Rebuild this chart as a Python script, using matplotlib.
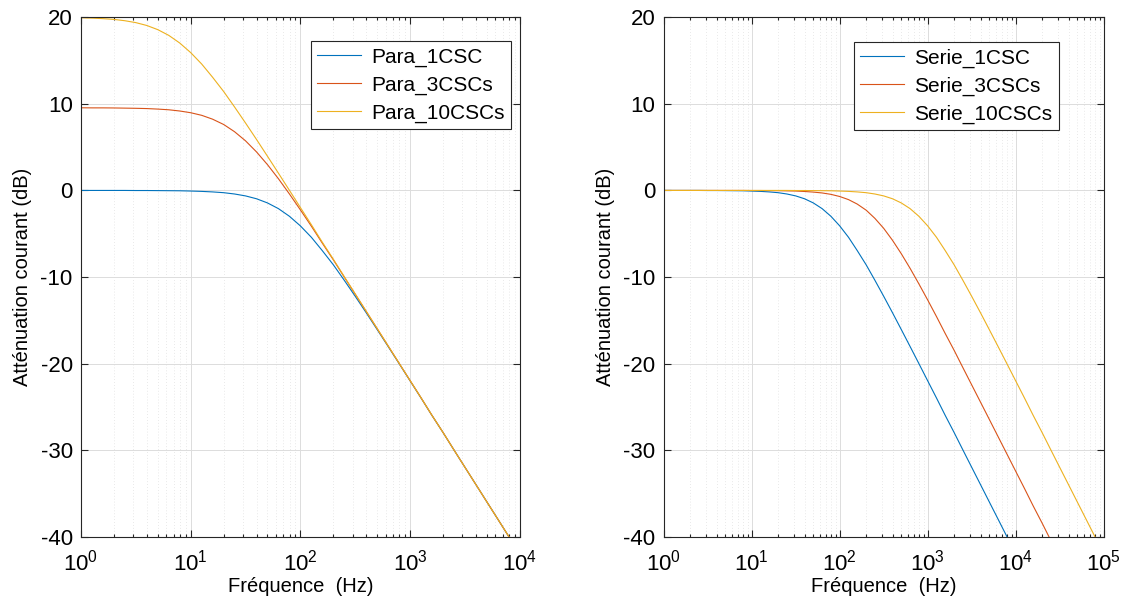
import matplotlib
matplotlib.use('Agg')
import matplotlib.pyplot as plt
from matplotlib.ticker import LogLocator, NullFormatter, MultipleLocator

plt.rcParams['font.family'] = ['Liberation Sans', 'DejaVu Sans']
plt.rcParams['mathtext.fontset'] = 'custom'
plt.rcParams['mathtext.rm'] = 'Liberation Sans'
plt.rcParams['axes.unicode_minus'] = False

# --- données (atténuation en dB) ---
# fréquences (Hz), 10 points par décade
freq = [1.00, 1.26, 1.58, 2.00, 2.51, 3.16, 3.98, 5.01, 6.31, 7.94,
        10.0, 12.6, 15.8, 20.0, 25.1, 31.6, 39.8, 50.1, 63.1, 79.4,
        100, 126, 158, 200, 251, 316, 398, 501, 631, 794,
        1000, 1260, 1580, 2000, 2510, 3160, 3980, 5010, 6310, 7940,
        10000, 12600, 15800, 20000, 25100, 31600, 39800, 50100, 63100, 79400,
        100000]
freq_para = freq[:41]
freq_serie = freq

para_1csc = [0.00, 0.00, 0.00, 0.00, 0.00, -0.01, -0.01, -0.02, -0.03, -0.04,
             -0.07, -0.11, -0.17, -0.26, -0.41, -0.63, -0.96, -1.44, -2.10, -2.98,
             -4.09, -5.41, -6.93, -8.59, -10.36, -12.21, -14.11, -16.05, -18.01, -19.98,
             -21.97, -23.96, -25.95, -27.95, -29.94, -31.94, -33.94, -35.94, -37.94, -39.94,
             -41.94]
para_3cscs = [9.54, 9.53, 9.53, 9.52, 9.50, 9.48, 9.45, 9.39, 9.31, 9.17,
              8.97, 8.67, 8.23, 7.61, 6.78, 5.73, 4.45, 2.98, 1.35, -0.40,
              -2.24, -4.13, -6.06, -8.02, -9.99, -11.97, -13.96, -15.95, -17.95, -19.94,
              -21.94, -23.94, -25.94, -27.94, -29.94, -31.94, -33.94, -35.94, -37.94, -39.94,
              -41.94]
para_10cscs = [19.93, 19.89, 19.83, 19.74, 19.59, 19.37, 19.04, 18.56, 17.90, 17.02,
               15.91, 14.59, 13.08, 11.41, 9.64, 7.79, 5.89, 3.95, 1.99, 0.02,
               -1.97, -3.96, -5.95, -7.95, -9.94, -11.94, -13.94, -15.94, -17.94, -19.94,
               -21.94, -23.94, -25.94, -27.94, -29.94, -31.94, -33.94, -35.94, -37.94, -39.94,
               -41.94]

serie_1csc = [0.00, 0.00, 0.00, 0.00, 0.00, -0.01, -0.01, -0.02, -0.03, -0.04,
              -0.07, -0.11, -0.17, -0.26, -0.41, -0.63, -0.96, -1.44, -2.10, -2.98,
              -4.09, -5.41, -6.93, -8.59, -10.36, -12.21, -14.11, -16.05, -18.01, -19.98,
              -21.97, -23.96, -25.95, -27.95, -29.94, -31.94, -33.94, -35.94, -37.94, -39.94,
              -41.94, -43.94, -45.94, -47.94, -49.94, -51.94, -53.94, -55.94, -57.94, -59.94,
              -61.94]
serie_3cscs = [0.00, 0.00, 0.00, 0.00, 0.00, 0.00, 0.00, 0.00, 0.00, 0.00,
               -0.01, -0.01, -0.02, -0.03, -0.05, -0.07, -0.12, -0.19, -0.29, -0.45,
               -0.70, -1.06, -1.57, -2.28, -3.22, -4.37, -5.75, -7.30, -8.99, -10.78,
               -12.64, -14.56, -16.50, -18.46, -20.44, -22.43, -24.42, -26.41, -28.41, -30.40,
               -32.40, -34.40, -36.40, -38.40, -40.40, -42.40, -44.40, -46.40, -48.40, -50.40,
               -52.40]
serie_10cscs = [0.00, 0.00, 0.00, 0.00, 0.00, 0.00, 0.00, 0.00, 0.00, 0.00,
                0.00, 0.00, 0.00, 0.00, 0.00, -0.01, -0.01, -0.02, -0.03, -0.04,
                -0.07, -0.11, -0.17, -0.26, -0.41, -0.63, -0.96, -1.44, -2.10, -2.98,
                -4.09, -5.41, -6.93, -8.59, -10.36, -12.21, -14.11, -16.05, -18.01, -19.98,
                -21.97, -23.96, -25.95, -27.95, -29.94, -31.94, -33.94, -35.94, -37.94, -39.94,
                -41.94]

labels_para = ['Para_1CSC', 'Para_3CSCs', 'Para_10CSCs']
labels_serie = ['Serie_1CSC', 'Serie_3CSCs', 'Serie_10CSCs']
couleurs = ['#0072BD', '#D95319', '#EDB120']


def style_axe(ax, xmax):
    ax.set_xscale('log')
    ax.set_xlim(1, xmax)
    ax.set_ylim(-40, 20)
    ax.yaxis.set_major_locator(MultipleLocator(10))
    ax.xaxis.set_major_locator(LogLocator(base=10, numticks=20))
    ax.xaxis.set_minor_locator(LogLocator(base=10, subs=range(2, 10), numticks=20))
    ax.xaxis.set_minor_formatter(NullFormatter())
    ax.tick_params(which='both', direction='in', top=True, right=True,
                   labelsize=16, width=0.8, colors='#262626', labelcolor='black')
    ax.tick_params(which='major', length=5)
    ax.tick_params(which='minor', length=2.5)
    ax.tick_params(axis='x', pad=9)
    ax.tick_params(axis='y', pad=6)
    ax.grid(True, which='major', color='#dcdcdc', linewidth=0.7)
    ax.grid(True, which='minor', axis='x', color='#e2e2e2', linewidth=0.6,
            linestyle=(0, (1, 2.5)))
    ax.set_axisbelow(True)
    for s in ax.spines.values():
        s.set_color('#262626')
        s.set_linewidth(0.8)
    ax.set_xlabel('Fréquence  (Hz)', fontsize=14.5, labelpad=1)
    ax.set_ylabel('Atténuation courant (dB)', fontsize=14.5, labelpad=6)


fig = plt.figure(figsize=(11.25, 6.13), dpi=100)
ax1 = fig.add_axes([0.072, 0.124, 0.390, 0.848])
ax2 = fig.add_axes([0.590, 0.124, 0.391, 0.848])

for y, lab, c in zip([para_1csc, para_3cscs, para_10cscs], labels_para, couleurs):
    ax1.plot(freq_para, y, color=c, linewidth=0.8, label=lab)
for y, lab, c in zip([serie_1csc, serie_3cscs, serie_10cscs], labels_serie, couleurs):
    ax2.plot(freq_serie, y, color=c, linewidth=0.8, label=lab)

style_axe(ax1, 1e4)
style_axe(ax2, 1e5)

for ax, anchor in [(ax1, (0.9795, 0.954)), (ax2, (0.898, 0.952))]:
    leg = ax.legend(loc='upper right', bbox_to_anchor=anchor, fontsize=15,
                    fancybox=False, framealpha=1, edgecolor='#262626',
                    borderpad=0.3, labelspacing=0.42, handlelength=2.1,
                    handletextpad=0.5, borderaxespad=0)
    leg.get_frame().set_linewidth(0.8)

fig.savefig('out.png', dpi=100)
plt.close(fig)
